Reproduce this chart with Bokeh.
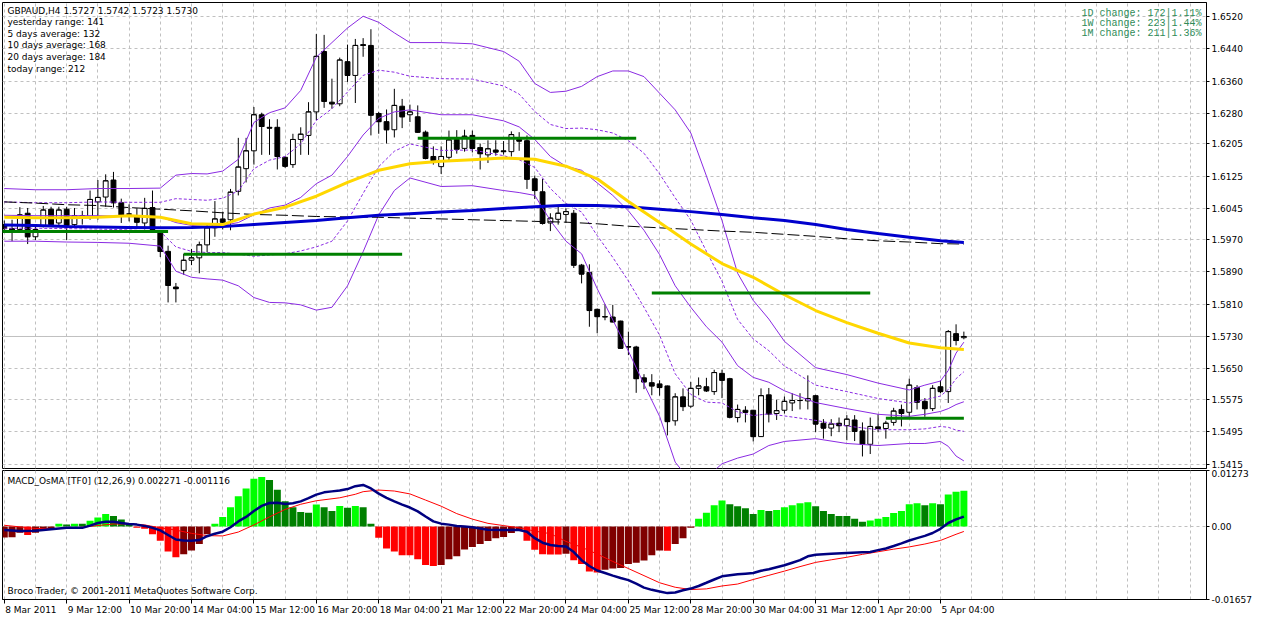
from bokeh.plotting import figure
from bokeh.layouts import column
from bokeh.models import (Range1d, FixedTicker, Grid, Label, Span,
                          PrintfTickFormatter, ColumnDataSource)
from bokeh.embed import file_html
from bokeh.resources import INLINE

# ---------------------------------------------------------------- texts
header_text = "GBPAUD,H4  1.5727 1.5742 1.5723 1.5730"
info_lines = ["yesterday range: 141", "5 days average: 132", "10 days average: 168",
              "20 days average: 184", "today range: 212"]
change_lines = ["1D change: 172|1.11%", "1W change: 223|1.44%", "1M change: 211|1.36%"]
macd_title = "MACD_OsMA [TF0] (12,26,9)  0.002271 -0.001116"
footer_text = "Broco Trader, \u00a9 2001-2011 MetaQuotes Software Corp."

time_label_bars = [0, 8, 16, 24, 32, 40, 48, 56, 64, 72, 80, 88, 96, 104, 112, 120]
time_labels = ["8 Mar 2011", "9 Mar 12:00", "10 Mar 20:00", "14 Mar 04:00", "15 Mar 12:00",
               "16 Mar 20:00", "18 Mar 04:00", "21 Mar 12:00", "22 Mar 20:00", "24 Mar 04:00",
               "25 Mar 12:00", "28 Mar 20:00", "30 Mar 04:00", "31 Mar 12:00", "1 Apr 20:00",
               "5 Apr 04:00"]

# ---------------------------------------------------------------- H4 candles
open_p = [
    1.6006, 1.5996, 1.5994, 1.6034, 1.5976, 1.6002, 1.6044, 1.6010, 1.6044, 1.6006,
    1.6028, 1.6025, 1.6062, 1.6074, 1.6116, 1.6060, 1.6032, 1.6026, 1.6010, 1.6048,
    1.5986, 1.5940, 1.5852, 1.5893, 1.5918, 1.5924, 1.5956, 1.5998, 1.6020, 1.6018,
    1.6088, 1.6144, 1.6188, 1.6277, 1.6246, 1.6246, 1.6172, 1.6154, 1.6216, 1.6226,
    1.6284, 1.6433, 1.6308, 1.6304, 1.6408, 1.6374, 1.6450, 1.6448, 1.6280, 1.6260,
    1.6240, 1.6298, 1.6277, 1.6272, 1.6234, 1.6174, 1.6149, 1.6172, 1.6216, 1.6194,
    1.6226, 1.6196, 1.6178, 1.6190, 1.6188, 1.6186, 1.6216, 1.6213, 1.6119, 1.6087,
    1.6010, 1.6019, 1.6031, 1.6034, 1.5906, 1.5888, 1.5797, 1.5778, 1.5778, 1.5768,
    1.5705, 1.5704, 1.5628, 1.5616, 1.5613, 1.5608, 1.5522, 1.5581, 1.5558, 1.5602,
    1.5606, 1.5594, 1.5639, 1.5626, 1.5530, 1.5548, 1.5548, 1.5483, 1.5586, 1.5540,
    1.5548, 1.5566, 1.5572, 1.5571, 1.5584, 1.5516, 1.5504, 1.5516, 1.5510, 1.5524,
    1.5497, 1.5464, 1.5507, 1.5503, 1.5518, 1.5550, 1.5543, 1.5604, 1.5570, 1.5552,
    1.5606, 1.5594, 1.5737, 1.5727]
high_p = [
    1.6016, 1.6018, 1.6049, 1.6047, 1.6001, 1.6052, 1.6050, 1.6050, 1.6050, 1.6047,
    1.6040, 1.6090, 1.6116, 1.6130, 1.6136, 1.6070, 1.6056, 1.6046, 1.6072, 1.6090,
    1.5990, 1.5954, 1.5862, 1.5934, 1.5946, 1.5964, 1.6006, 1.6064, 1.6038, 1.6094,
    1.6220, 1.6220, 1.6296, 1.6282, 1.6266, 1.6266, 1.6174, 1.6230, 1.6246, 1.6308,
    1.6476, 1.6474, 1.6366, 1.6418, 1.6450, 1.6464, 1.6466, 1.6488, 1.6284, 1.6290,
    1.6341, 1.6316, 1.6302, 1.6300, 1.6238, 1.6199, 1.6199, 1.6238, 1.6239, 1.6240,
    1.6238, 1.6206, 1.6214, 1.6214, 1.6212, 1.6236, 1.6234, 1.6226, 1.6127, 1.6119,
    1.6034, 1.6052, 1.6046, 1.6042, 1.5909, 1.5908, 1.5799, 1.5809, 1.5808, 1.5769,
    1.5742, 1.5707, 1.5637, 1.5637, 1.5622, 1.5609, 1.5590, 1.5602, 1.5618, 1.5629,
    1.5628, 1.5648, 1.5648, 1.5628, 1.5562, 1.5558, 1.5549, 1.5602, 1.5603, 1.5574,
    1.5582, 1.5590, 1.5590, 1.5634, 1.5586, 1.5526, 1.5526, 1.5530, 1.5536, 1.5536,
    1.5518, 1.5530, 1.5538, 1.5522, 1.5554, 1.5562, 1.5626, 1.5610, 1.5578, 1.5610,
    1.5622, 1.5746, 1.5760, 1.5742]
low_p = [
    1.5987, 1.5965, 1.5989, 1.5958, 1.5968, 1.5999, 1.6001, 1.6002, 1.5968, 1.5999,
    1.6006, 1.6018, 1.6018, 1.6050, 1.6048, 1.6010, 1.6014, 1.5998, 1.5994, 1.5990,
    1.5926, 1.5814, 1.5814, 1.5882, 1.5906, 1.5886, 1.5938, 1.5976, 1.5994, 1.5992,
    1.6078, 1.6110, 1.6154, 1.6178, 1.6178, 1.6142, 1.6146, 1.6146, 1.6178, 1.6178,
    1.6264, 1.6294, 1.6292, 1.6298, 1.6358, 1.6306, 1.6420, 1.6226, 1.6230, 1.6206,
    1.6221, 1.6244, 1.6259, 1.6232, 1.6167, 1.6154, 1.6131, 1.6163, 1.6181, 1.6186,
    1.6184, 1.6142, 1.6158, 1.6176, 1.6179, 1.6174, 1.6188, 1.6094, 1.6069, 1.6006,
    1.5990, 1.6006, 1.6010, 1.5899, 1.5861, 1.5754, 1.5738, 1.5770, 1.5765, 1.5700,
    1.5684, 1.5591, 1.5600, 1.5585, 1.5584, 1.5486, 1.5510, 1.5546, 1.5554, 1.5585,
    1.5593, 1.5586, 1.5578, 1.5528, 1.5518, 1.5518, 1.5471, 1.5482, 1.5518, 1.5524,
    1.5540, 1.5546, 1.5550, 1.5550, 1.5494, 1.5478, 1.5484, 1.5494, 1.5474, 1.5472,
    1.5434, 1.5440, 1.5494, 1.5478, 1.5510, 1.5508, 1.5532, 1.5550, 1.5532, 1.5546,
    1.5590, 1.5566, 1.5708, 1.5723]
close_p = [
    1.5996, 1.5992, 1.6030, 1.5976, 1.5994, 1.6042, 1.6006, 1.6042, 1.6004, 1.6028,
    1.6024, 1.6068, 1.6073, 1.6114, 1.6060, 1.6030, 1.6032, 1.6012, 1.6046, 1.5994,
    1.5940, 1.5856, 1.5848, 1.5918, 1.5924, 1.5956, 1.5998, 1.6020, 1.6012, 1.6086,
    1.6148, 1.6188, 1.6277, 1.6248, 1.6244, 1.6174, 1.6150, 1.6216, 1.6229, 1.6284,
    1.6421, 1.6310, 1.6304, 1.6412, 1.6374, 1.6448, 1.6448, 1.6276, 1.6260, 1.6240,
    1.6300, 1.6272, 1.6284, 1.6234, 1.6169, 1.6164, 1.6174, 1.6215, 1.6192, 1.6224,
    1.6194, 1.6181, 1.6193, 1.6185, 1.6186, 1.6228, 1.6212, 1.6118, 1.6090, 1.6009,
    1.6022, 1.6034, 1.6038, 1.5906, 1.5884, 1.5794, 1.5779, 1.5779, 1.5766, 1.5701,
    1.5704, 1.5626, 1.5618, 1.5608, 1.5604, 1.5520, 1.5581, 1.5557, 1.5602, 1.5608,
    1.5596, 1.5641, 1.5622, 1.5531, 1.5550, 1.5543, 1.5483, 1.5584, 1.5539, 1.5547,
    1.5570, 1.5572, 1.5572, 1.5577, 1.5514, 1.5504, 1.5514, 1.5510, 1.5526, 1.5496,
    1.5464, 1.5508, 1.5503, 1.5516, 1.5546, 1.5540, 1.5610, 1.5568, 1.5552, 1.5602,
    1.5594, 1.5742, 1.5720, 1.5730]

# ---------------------------------------------------------------- moving averages (read every 4 bars)
ma_bars = [0, 4, 8, 12, 16, 20, 24, 28, 32, 36, 40, 44, 48, 52, 56, 60,
           64, 68, 72, 76, 80, 84, 88, 92, 96, 100, 104, 108, 112, 116, 120, 123]
ma_gold = [1.6024, 1.6023, 1.6023, 1.6024, 1.6028, 1.6024, 1.6008, 1.6006, 1.6032, 1.6049,
           1.6076, 1.6110, 1.6140, 1.6156, 1.6162, 1.6166, 1.6170, 1.6167, 1.6150, 1.6119,
           1.6063, 1.6011, 1.5958, 1.5910, 1.5876, 1.5833, 1.5794, 1.5764, 1.5738, 1.5714,
           1.5702, 1.5698]
ma_blue = [1.6005, 1.6004, 1.6001, 1.6000, 1.5999, 1.5998, 1.5999, 1.6001, 1.6006, 1.6011,
           1.6016, 1.6023, 1.6029, 1.6033, 1.6037, 1.6041, 1.6046, 1.6050, 1.6054, 1.6053,
           1.6050, 1.6044, 1.6038, 1.6031, 1.6023, 1.6016, 1.6006, 1.5994, 1.5984, 1.5975,
           1.5966, 1.5962]
ma_black = [1.6062, 1.6059, 1.6055, 1.6053, 1.6048, 1.6044, 1.6040, 1.6035, 1.6031, 1.6029,
            1.6026, 1.6025, 1.6024, 1.6022, 1.6020, 1.6018, 1.6016, 1.6014, 1.6012, 1.6008,
            1.6002, 1.5998, 1.5994, 1.5990, 1.5987, 1.5982, 1.5977, 1.5971, 1.5966, 1.5963,
            1.5959, 1.5958]

# ---------------------------------------------------------------- Bollinger bands (read)
bb_bars = [0, 4, 8, 12, 16, 20, 22, 24, 26, 28, 30, 32, 34, 36, 38, 40, 42, 44, 46, 48,
           50, 52, 56, 60, 64, 66, 68, 70, 72, 74, 76, 78, 80, 82, 84, 86, 88, 90, 92, 94,
           96, 98, 100, 104, 108, 112, 116, 118, 120, 121, 122, 123]
bb_up2 = [1.6095, 1.6092, 1.6092, 1.6095, 1.6095, 1.6096, 1.6128, 1.6132, 1.6131, 1.6138,
          1.6167, 1.6258, 1.6282, 1.6294, 1.6337, 1.6419, 1.6455, 1.6491, 1.6520, 1.6505,
          1.6479, 1.6455, 1.6455, 1.6452, 1.6433, 1.6409, 1.6354, 1.6332, 1.6335, 1.6347,
          1.6371, 1.6385, 1.6385, 1.6371, 1.6330, 1.6289, 1.6232, 1.6126, 1.6016, 1.5886,
          1.5819, 1.5773, 1.5718, 1.5653, 1.5636, 1.5615, 1.5598, 1.5610, 1.5620, 1.5646,
          1.5689, 1.5716]
bb_up1 = [1.6062, 1.6060, 1.6060, 1.6062, 1.6061, 1.6061, 1.6070, 1.6068, 1.6066, 1.6071,
          1.6089, 1.6144, 1.6165, 1.6174, 1.6205, 1.6263, 1.6292, 1.6333, 1.6374, 1.6387,
          1.6382, 1.6372, 1.6366, 1.6365, 1.6348, 1.6328, 1.6285, 1.6253, 1.6243, 1.6244,
          1.6240, 1.6232, 1.6213, 1.6182, 1.6131, 1.6072, 1.6017, 1.5940, 1.5866, 1.5772,
          1.5724, 1.5695, 1.5657, 1.5610, 1.5594, 1.5577, 1.5566, 1.5574, 1.5583, 1.5599,
          1.5626, 1.5643]
bb_mid = [1.6029, 1.6028, 1.6028, 1.6028, 1.6026, 1.6025, 1.6011, 1.6004, 1.6001, 1.6004,
          1.6011, 1.6030, 1.6047, 1.6054, 1.6073, 1.6107, 1.6128, 1.6174, 1.6227, 1.6268,
          1.6284, 1.6289, 1.6277, 1.6277, 1.6262, 1.6247, 1.6216, 1.6174, 1.6150, 1.6140,
          1.6109, 1.6078, 1.6040, 1.5992, 1.5932, 1.5855, 1.5802, 1.5754, 1.5716, 1.5658,
          1.5629, 1.5617, 1.5596, 1.5567, 1.5552, 1.5538, 1.5533, 1.5538, 1.5545, 1.5552,
          1.5562, 1.5569]
bb_lo1 = [1.5997, 1.5997, 1.5996, 1.5995, 1.5993, 1.5989, 1.5951, 1.5940, 1.5937, 1.5937,
          1.5933, 1.5928, 1.5931, 1.5934, 1.5941, 1.5951, 1.5965, 1.6015, 1.6083, 1.6149,
          1.6187, 1.6205, 1.6189, 1.6190, 1.6176, 1.6166, 1.6147, 1.6095, 1.6058, 1.6037,
          1.5979, 1.5925, 1.5867, 1.5802, 1.5733, 1.5638, 1.5587, 1.5568, 1.5566, 1.5544,
          1.5535, 1.5539, 1.5534, 1.5523, 1.5509, 1.5500, 1.5500, 1.5502, 1.5508, 1.5506,
          1.5499, 1.5496]
bb_lo2 = [1.5965, 1.5965, 1.5963, 1.5962, 1.5960, 1.5953, 1.5891, 1.5876, 1.5872, 1.5869,
          1.5855, 1.5826, 1.5814, 1.5813, 1.5808, 1.5795, 1.5802, 1.5855, 1.5939, 1.6030,
          1.6090, 1.6121, 1.6100, 1.6102, 1.6090, 1.6085, 1.6078, 1.6016, 1.5965, 1.5934,
          1.5848, 1.5771, 1.5694, 1.5612, 1.5533, 1.5420, 1.5372, 1.5382, 1.5416, 1.5430,
          1.5440, 1.5461, 1.5471, 1.5478, 1.5466, 1.5461, 1.5466, 1.5466, 1.5471, 1.5459,
          1.5435, 1.5423]

# ---------------------------------------------------------------- horizontal levels
level_start = [-7, 23, 53, 83, 113]
level_end = [21, 51, 81, 111, 123]
level_price = [1.5989, 1.5933, 1.6219, 1.5837, 1.5528]

current_price = 1.5730
price_ticks = [1.6520, 1.6440, 1.6360, 1.6280, 1.6205, 1.6125, 1.6045, 1.5970,
               1.5890, 1.5810, 1.5730, 1.5650, 1.5575, 1.5495, 1.5415]

# ---------------------------------------------------------------- MACD / OsMA
osma = [
    -0.00250, -0.00245, -0.00140, -0.00191, -0.00140, -0.00066, -0.00037, 0.00066, 0.00044, 0.00066,
    0.00064, 0.00132, 0.00206, 0.00286, 0.00242, 0.00162, 0.00044, -0.00029, -0.00051, -0.00176,
    -0.00323, -0.00565, -0.00698, -0.00632, -0.00543, -0.00397, -0.00176, 0.00066, 0.00220, 0.00441,
    0.00690, 0.00866, 0.01087, 0.01124, 0.01057, 0.00837, 0.00573, 0.00441, 0.00330, 0.00316,
    0.00499, 0.00441, 0.00352, 0.00470, 0.00426, 0.00470, 0.00441, 0.00066, -0.00257, -0.00499,
    -0.00565, -0.00653, -0.00655, -0.00741, -0.00873, -0.00895, -0.00873, -0.00741, -0.00675, -0.00521,
    -0.00463, -0.00397, -0.00330, -0.00264, -0.00235, -0.00147, -0.00088, -0.00323, -0.00529, -0.00631,
    -0.00633, -0.00635, -0.00617, -0.00764, -0.00852, -0.01021, -0.01043, -0.00984, -0.00955, -0.00940,
    -0.00852, -0.00822, -0.00771, -0.00654, -0.00543, -0.00548, -0.00397, -0.00264, -0.00029, 0.00176,
    0.00316, 0.00485, 0.00595, 0.00507, 0.00463, 0.00419, 0.00286, 0.00374, 0.00352, 0.00374,
    0.00441, 0.00485, 0.00529, 0.00551, 0.00463, 0.00352, 0.00286, 0.00242, 0.00240, 0.00176,
    0.00110, 0.00140, 0.00176, 0.00220, 0.00308, 0.00352, 0.00507, 0.00529, 0.00485, 0.00529,
    0.00507, 0.00727, 0.00793, 0.00815]

macd_bars = [0, 2, 4, 6, 8, 10,
             11, 12, 13, 14, 15, 16, 17, 18, 19, 20,
             21, 22, 23, 24, 25, 26, 27, 28, 29, 30,
             31, 32, 33, 34, 35, 36, 37, 38, 39, 40,
             41, 42, 43, 44, 45, 46, 47, 48, 49, 50,
             51, 52, 53, 54, 55, 56, 57, 58, 59, 60,
             61, 62, 64, 66,
             67, 68, 69, 70, 71, 72, 73, 74, 75, 76,
             77, 78, 79, 80, 81, 82, 83, 84, 85, 86,
             87, 88, 89, 90, 91, 92, 93, 94, 95, 96,
             97, 98, 99, 100, 101, 102, 103, 104,
             106, 108, 110,
             111, 112, 113, 114, 115, 116, 117, 118, 119, 120,
             121, 122, 123]
macd_main = [-0.00081, -0.00103, -0.00095, -0.00059, -0.00029, -0.00029,
             0.00022, 0.00081, 0.00110, 0.00110, 0.00081, 0.00059, 0.00044, 0.00015, -0.00029, -0.00088,
             -0.00191, -0.00294, -0.00316, -0.00323, -0.00308, -0.00220, -0.00162, -0.00117, -0.00015, 0.00117,
             0.00220, 0.00352, 0.00470, 0.00536, 0.00543, 0.00514, 0.00529, 0.00573, 0.00646, 0.00727,
             0.00778, 0.00800, 0.00822, 0.00852, 0.00918, 0.00947, 0.00866, 0.00749, 0.00654, 0.00573,
             0.00499, 0.00433, 0.00345, 0.00228, 0.00117, 0.00066, 0.00044, 0.00015, 0.00000, -0.00015,
             -0.00044, -0.00073, -0.00081, -0.00081,
             -0.00117, -0.00264, -0.00367, -0.00419, -0.00441, -0.00455, -0.00580, -0.00764, -0.00896, -0.00999,
             -0.01057, -0.01116, -0.01168, -0.01219, -0.01300, -0.01388, -0.01439, -0.01476, -0.01513, -0.01498,
             -0.01447, -0.01410, -0.01351, -0.01278, -0.01204, -0.01131, -0.01109, -0.01087, -0.01072, -0.01057,
             -0.01006, -0.00969, -0.00925, -0.00881, -0.00822, -0.00764, -0.00676, -0.00639,
             -0.00617, -0.00602, -0.00587,
             -0.00580, -0.00536, -0.00499, -0.00441, -0.00382, -0.00316, -0.00264, -0.00213, -0.00147, -0.00051,
             0.00081, 0.00162, 0.002271]

signal_bars = [0, 4, 8, 10, 12, 14, 16, 18, 20, 22,
               24, 26, 28, 30, 32, 34, 36, 38, 40,
               43, 45, 46, 48, 50, 52, 54, 56, 58, 60,
               62, 64, 66, 68, 70, 72, 74, 76, 78, 80,
               82, 84, 86, 88, 90, 92, 94, 96, 98, 100,
               102, 104, 106, 108, 110, 112, 114, 116, 118, 120,
               122, 123]
macd_signal = [0.00029, -0.00044, -0.00044, -0.00015, 0.00022, 0.00059, 0.00059, 0.00037, -0.00029, -0.00081,
               -0.00154, -0.00206, -0.00213, -0.00125, 0.00037, 0.00220, 0.00389, 0.00507, 0.00587,
               0.00654, 0.00734, 0.00793, 0.00830, 0.00808, 0.00742, 0.00602, 0.00463, 0.00294, 0.00169,
               0.00073, 0.00022, -0.00029, -0.00103, -0.00162, -0.00338, -0.00470, -0.00624, -0.00793, -0.00955,
               -0.01116, -0.01278, -0.01380, -0.01432, -0.01417, -0.01351, -0.01307, -0.01204, -0.01109, -0.01013,
               -0.00911, -0.00815, -0.00756, -0.00698, -0.00632, -0.00573, -0.00514, -0.00463, -0.00397, -0.00316,
               -0.00176, -0.001116]

macd_ticks = [0.01273, 0.0, -0.01657]
macd_tick_text = ["0.01273", "0.00", "-0.01657"]

# ---------------------------------------------------------------- layout constants
FW = 1204          # frame width (both panels)
H1 = 466           # price panel frame height
H2 = 129           # MACD panel frame height
RB = 52            # right border (axis)
X0, X1 = -0.225, 154.1
P_BOT, P_TOP = 1.54043, 1.65539
M_BOT, M_TOP = -0.016585, 0.012745

FONT = "DejaVu Sans"
GRID_C = "#c0c0c0"
PURPLE = "#8A2BE2"

ppb = FW / (X1 - X0)
ppp = (P_TOP - P_BOT) / H1
mpp = (M_TOP - M_BOT) / H2

grid_bars = list(range(0, 156, 4))


def style_common(fig):
    fig.background_fill_color = "white"
    fig.border_fill_color = "white"
    fig.outline_line_color = "black"
    fig.outline_line_width = 1
    fig.outline_line_alpha = 1.0
    for g in list(fig.center):
        if isinstance(g, Grid):
            g.visible = False
    fig.add_layout(Grid(dimension=0, ticker=FixedTicker(ticks=grid_bars),
                        grid_line_color=GRID_C, grid_line_dash="3 3"), "center")


def style_yaxis(ax):
    ax.axis_line_color = "black"
    ax.major_tick_line_color = "black"
    ax.major_tick_out = 3
    ax.major_tick_in = 0
    ax.minor_tick_line_color = None
    ax.major_label_standoff = 2
    ax.major_label_text_font = FONT
    ax.major_label_text_font_size = "9px"
    ax.major_label_text_color = "black"


# ---------------------------------------------------------------- price panel
p = figure(frame_width=FW, frame_height=H1, x_range=Range1d(X0, X1),
           y_range=Range1d(P_BOT, P_TOP), x_axis_location=None, y_axis_location="right",
           toolbar_location=None, output_backend="svg", title=None,
           min_border_left=2, min_border_right=RB, min_border_top=2, min_border_bottom=1)
style_common(p)
p.add_layout(Grid(dimension=1, ticker=FixedTicker(ticks=price_ticks),
                  grid_line_color=GRID_C, grid_line_dash="3 3"), "center")
style_yaxis(p.yaxis[0])
p.yaxis[0].ticker = FixedTicker(ticks=price_ticks)
p.yaxis[0].formatter = PrintfTickFormatter(format="%.4f")

p.add_layout(Span(location=current_price, dimension="width", line_color=GRID_C,
                  line_width=1, level="underlay"))

n = len(close_p)
bars = list(range(n))
body_w = 0.62
candles = ColumnDataSource(dict(
    x=bars, h=high_p, l=low_p,
    top=[max(o, c) for o, c in zip(open_p, close_p)],
    bot=[min(o, c) for o, c in zip(open_p, close_p)],
    fill=["white" if c >= o else "black" for o, c in zip(open_p, close_p)],
    xl=[b - body_w / 2 for b in bars], xr=[b + body_w / 2 for b in bars], c=close_p))
p.segment(x0="x", y0="h", x1="x", y1="l", source=candles, line_color="black", line_width=1)
p.vbar(x="x", width=body_w, top="top", bottom="bot", fill_color="fill",
       line_color="black", line_width=1, source=candles)
p.segment(x0="xl", y0="c", x1="xr", y1="c", source=candles, line_color="black", line_width=1)

for vals, dash in [(bb_up2, "solid"), (bb_up1, "3 2"), (bb_mid, "solid"),
                   (bb_lo1, "3 2"), (bb_lo2, "solid")]:
    p.line(bb_bars, vals, line_color=PURPLE, line_width=1, line_dash=dash)

p.line(ma_bars, ma_black, line_color="black", line_width=1, line_dash="12 4")
p.line(ma_bars, ma_blue, line_color="#0000CD", line_width=3)
p.line(ma_bars, ma_gold, line_color="#FFD700", line_width=3)
p.segment(x0=level_start, y0=level_price, x1=level_end, y1=level_price,
          line_color="#008000", line_width=3)

# texts in the price panel
left_x = X0 + 5 / ppb
right_x = X1 - 5 / ppb
left_offsets = [8.6, 19, 31, 42.6, 54.6, 66.6]
for txt, off in zip([header_text] + info_lines, left_offsets):
    p.add_layout(Label(x=left_x, y=P_TOP - off * ppp, text=txt, text_font=FONT,
                       text_font_size="9px", text_color="black", text_baseline="middle",
                       text_align="left"))
for txt, off in zip(change_lines, [11, 21, 31]):
    p.add_layout(Label(x=right_x, y=P_TOP - off * ppp, text=txt, text_font="Liberation Mono",
                       text_font_size="10px", text_color="#2E8B57", text_baseline="middle",
                       text_align="right"))

tag_kw = dict(x=FW + 3, y=current_price, x_units="screen", y_units="data",
              text="%.4f" % current_price, text_font=FONT, text_font_size="9px",
              text_color="white", background_fill_color="black", text_baseline="middle",
              text_align="left")
try:
    price_tag = Label(padding=2, **tag_kw)
except Exception:
    price_tag = Label(**tag_kw)
p.add_layout(price_tag)

# ---------------------------------------------------------------- MACD panel
m = figure(frame_width=FW, frame_height=H2, x_range=p.x_range,
           y_range=Range1d(M_BOT, M_TOP), x_axis_location="below", y_axis_location="right",
           toolbar_location=None, output_backend="svg", title=None,
           min_border_left=2, min_border_right=RB, min_border_top=1, min_border_bottom=16)
style_common(m)
m.add_layout(Grid(dimension=1, ticker=FixedTicker(ticks=[0.0]),
                  grid_line_color=GRID_C, grid_line_dash="3 3"), "center")
style_yaxis(m.yaxis[0])
m.yaxis[0].ticker = FixedTicker(ticks=macd_ticks)
m.yaxis[0].major_label_overrides = dict(zip(macd_ticks, macd_tick_text))

CW = {" ": 0.318, ":": 0.337, "M": 0.863, "a": 0.613, "r": 0.411, "A": 0.684, "p": 0.635}


def text_width(s, size=9.0):
    return sum(CW.get(ch, 0.636) for ch in s) * size


label_pos = [round(b + (text_width(t) / 2 + 1) / ppb, 3) for b, t in zip(time_label_bars, time_labels)]
xa = m.xaxis[0]
xa.ticker = FixedTicker(ticks=label_pos, minor_ticks=time_label_bars)
xa.major_label_overrides = dict(zip(label_pos, time_labels))
xa.axis_line_color = "black"
xa.major_tick_line_color = None
xa.major_tick_out = 3
xa.major_tick_in = 0
xa.minor_tick_line_color = "black"
xa.minor_tick_out = 4
xa.minor_tick_in = 0
xa.major_label_standoff = 1
xa.major_label_text_font = FONT
xa.major_label_text_font_size = "9px"
xa.major_label_text_color = "black"

hist_colors = []
prev = None
for v in osma:
    if v >= 0:
        hist_colors.append("#00FF00" if (prev is None or v >= prev) else "#008000")
    else:
        hist_colors.append("#FF0000" if (prev is not None and v < prev) else "#800000")
    prev = v
m.vbar(x=bars, top=osma, bottom=0, width=0.9, fill_color=hist_colors, line_color=None)
m.line(signal_bars, macd_signal, line_color="#FF0000", line_width=1)
m.line(macd_bars, macd_main, line_color="#000080", line_width=2.5)

m.add_layout(Label(x=left_x, y=M_TOP - 10.7 * mpp, text=macd_title, text_font=FONT,
                   text_font_size="9px", text_color="black", text_baseline="middle",
                   text_align="left"))
m.add_layout(Label(x=left_x, y=M_BOT + 9 * mpp, text=footer_text, text_font=FONT,
                   text_font_size="9px", text_color="black", text_baseline="middle",
                   text_align="left"))

layout = column(p, m, spacing=0)
open("out.html", "w").write(file_html(layout, INLINE, title="GBPAUD,H4"))
